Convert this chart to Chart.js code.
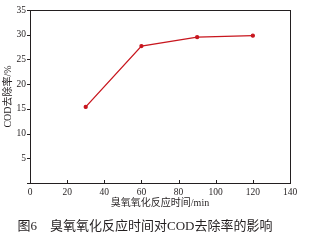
<!DOCTYPE html>
<html>
<head>
<meta charset="utf-8">
<script src="https://cdn.jsdelivr.net/npm/chart.js@4"></script>
<style>
  html, body { margin: 0; padding: 0; background: #fff; }
  #wrap { width: 309px; height: 240px; }
</style>
</head>
<body>
<div id="wrap"><canvas id="c" width="309" height="240"></canvas></div>
<script>
// ozone reaction time vs COD removal
const times = [30, 60, 90, 120];
const codRemoval = [15.4, 27.7, 29.5, 29.8];
const xTicks = [0, 20, 40, 60, 80, 100, 120, 140];
const yTicks = [0, 5, 10, 15, 20, 25, 30, 35];

const FONT = "'Liberation Serif', 'Times New Roman', 'Noto Sans CJK SC', serif";
const INK = "#231f20";

// x ticks point in, y ticks point out; closed frame
const framePlugin = {
  id: "frame",
  afterDraw(chart) {
    const { ctx, chartArea: a, scales } = chart;
    ctx.save();
    ctx.strokeStyle = INK;
    ctx.lineWidth = 1;
    ctx.beginPath();
    for (const v of xTicks) {
      const x = Math.round(scales.x.getPixelForValue(v)) + 0.5;
      ctx.moveTo(x, a.bottom);
      ctx.lineTo(x, a.bottom - 3);
    }
    for (const v of yTicks) {
      const y = Math.round(scales.y.getPixelForValue(v)) + 0.5;
      ctx.moveTo(a.left - 3, y);
      ctx.lineTo(a.left, y);
    }
    ctx.stroke();
    ctx.strokeRect(Math.round(a.left) + 0.5, Math.round(a.top) + 0.5,
      Math.round(a.right - a.left), Math.round(a.bottom - a.top));
    ctx.restore();
  },
};

new Chart(document.getElementById("c"), {
  type: "line",
  data: {
    datasets: [{
      data: times.map((t, i) => ({ x: t, y: codRemoval[i] })),
      borderColor: "#c8161e",
      backgroundColor: "#c8161e",
      borderWidth: 1.3,
      pointRadius: 1.5,
      pointHoverRadius: 1.5,
      tension: 0,
    }],
  },
  options: {
    responsive: false,
    animation: false,
    layout: { padding: { top: 10, right: 19, bottom: 6, left: 0 } },
    plugins: {
      legend: { display: false },
      tooltip: { enabled: false },
      title: {
        display: true,
        position: "bottom",
        text: "图6　臭氧氧化反应时间对COD去除率的影响",
        color: INK,
        font: { family: FONT, size: 13, weight: "normal" },
        padding: { top: 4, bottom: 0 },
      },
    },
    scales: {
      x: {
        type: "linear",
        min: 0,
        max: 140,
        afterFit(s) { s.height = 31.4; },
        afterBuildTicks(s) { s.ticks = xTicks.map((v) => ({ value: v })); },
        grid: { display: false, drawTicks: false },
        border: { display: true, color: INK, width: 1 },
        ticks: { color: INK, padding: 4, font: { family: FONT, size: 9.5 } },
        title: {
          display: true,
          text: "臭氧氧化反应时间/min",
          color: INK,
          font: { family: FONT, size: 10 },
          padding: { top: 0, bottom: 5 },
        },
      },
      y: {
        min: 0,
        max: 35,
        afterFit(s) { s.width = 30; },
        afterBuildTicks(s) { s.ticks = yTicks.map((v) => ({ value: v })); },
        grid: { display: false, drawTicks: false },
        border: { display: true, color: INK, width: 1 },
        ticks: {
          color: INK,
          padding: 4,
          font: { family: FONT, size: 9.5 },
          callback: (v) => (v === 0 ? "" : v),
        },
        title: {
          display: true,
          text: "COD去除率/%",
          color: INK,
          font: { family: FONT, size: 10 },
          padding: { top: 2, bottom: 0 },
        },
      },
    },
  },
  plugins: [framePlugin],
});
</script>
</body>
</html>
